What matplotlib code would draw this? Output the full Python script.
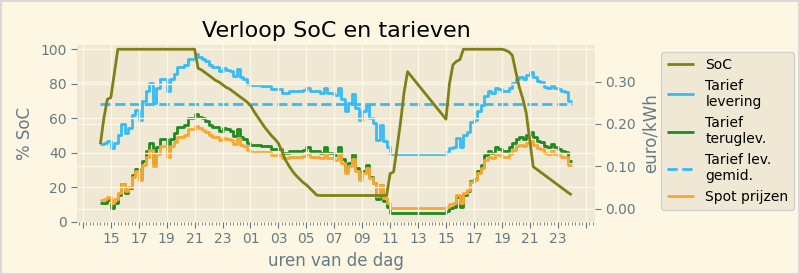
import matplotlib
matplotlib.use('Agg')
import matplotlib.pyplot as plt
import matplotlib.dates as mdates
import matplotlib.ticker as mticker
import pandas as pd
import numpy as np

plt.style.use('Solarize_Light2')

# ---- data (quarter-hour values, 14:15 day 1 .. 24:00 day 2) ----
start_time = '2025-03-10 14:15'

soc = [
    45, 60, 71,
    72, 86, 100, 100,
    100, 100, 100, 100,
    100, 100, 100, 100,
    100, 100, 100, 100,
    100, 100, 100, 100,
    100, 100, 100, 100,
    100, 89, 88, 86.5,
    85, 83.5, 82, 81,
    79.5, 78, 77, 75.5,
    # day 2
    74, 72.5, 71, 69.5,
    67.5, 64, 61, 58,
    55, 52.5, 50, 48,
    45.5, 41, 36, 32.5,
    29.5, 27, 25, 23,
    21.5, 19.5, 17.5, 15.5,
    15.3, 15.3, 15.3, 15.3,
    15.3, 15.3, 15.3, 15.3,
    15.3, 15.3, 15.3, 15.3,
    15.3, 15.3, 15.3, 15.3,
    15.3, 15.3, 15.3, 15.3,
    28, 29, 43, 58,
    75, 87, 84.5, 82,
    79.5, 77, 74.5, 72,
    69.5, 67, 64.5, 62,
    59.5, 80, 91, 93,
    94, 100, 100, 100,
    100, 100, 100, 100,
    100, 100, 100, 100,
    100, 99.5, 98.5, 96.5,
    87, 78, 71.5, 63,
    47.5, 32, 30.5, 29,
    27.5, 26, 24.5, 23,
    21.5, 20, 18.5, 17,
    15.6,
]

spot = [
    0.021, 0.022, 0.027,
    0.013, 0.022, 0.037, 0.059,
    0.041, 0.052, 0.076, 0.088,
    0.068, 0.103, 0.123, 0.139,
    0.100, 0.130, 0.147, 0.147,
    0.123, 0.147, 0.158, 0.170,
    0.170, 0.174, 0.187, 0.187,
    0.195, 0.190, 0.186, 0.182,
    0.174, 0.170, 0.170, 0.162,
    0.168, 0.165, 0.162, 0.152,
    # day 2
    0.166, 0.150, 0.147, 0.138,
    0.135, 0.135, 0.135, 0.133,
    0.133, 0.133, 0.127, 0.127,
    0.127, 0.119, 0.119, 0.123,
    0.123, 0.123, 0.123, 0.125,
    0.130, 0.123, 0.123, 0.123,
    0.119, 0.130, 0.119, 0.119,
    0.116, 0.130, 0.108, 0.085,
    0.100, 0.117, 0.090, 0.068,
    0.084, 0.096, 0.072, 0.061,
    0.029, 0.057, 0.026, 0.014,
    0.002, 0.002, 0.002, 0.002,
    0.002, 0.002, 0.002, 0.002,
    0.002, 0.002, 0.002, 0.002,
    0.002, 0.002, 0.002, 0.002,
    0.005, 0.012, 0.014, 0.033,
    0.014, 0.037, 0.045, 0.064,
    0.068, 0.084, 0.096, 0.115,
    0.123, 0.119, 0.130, 0.127,
    0.123, 0.123, 0.130, 0.139,
    0.147, 0.150, 0.147, 0.155,
    0.160, 0.150, 0.143, 0.141,
    0.132, 0.130, 0.136, 0.130,
    0.127, 0.123, 0.122, 0.103,
    0.103,
]

tarief_levering = [
    0.153, 0.155, 0.161,
    0.144, 0.155, 0.173, 0.199,
    0.178, 0.191, 0.220, 0.234,
    0.210, 0.253, 0.277, 0.296,
    0.249, 0.285, 0.306, 0.306,
    0.277, 0.306, 0.319, 0.334,
    0.334, 0.339, 0.354, 0.354,
    0.364, 0.358, 0.353, 0.348,
    0.339, 0.334, 0.334, 0.324,
    0.331, 0.328, 0.324, 0.312,
    # day 2
    0.329, 0.310, 0.306, 0.295,
    0.291, 0.291, 0.291, 0.289,
    0.289, 0.289, 0.282, 0.282,
    0.282, 0.272, 0.272, 0.277,
    0.277, 0.277, 0.277, 0.279,
    0.285, 0.277, 0.277, 0.277,
    0.272, 0.285, 0.272, 0.272,
    0.268, 0.285, 0.259, 0.231,
    0.249, 0.270, 0.237, 0.210,
    0.230, 0.244, 0.215, 0.202,
    0.163, 0.197, 0.159, 0.145,
    0.130, 0.130, 0.130, 0.130,
    0.130, 0.130, 0.130, 0.130,
    0.130, 0.130, 0.130, 0.130,
    0.130, 0.130, 0.130, 0.130,
    0.134, 0.143, 0.145, 0.168,
    0.145, 0.173, 0.182, 0.205,
    0.210, 0.230, 0.244, 0.267,
    0.277, 0.272, 0.285, 0.282,
    0.277, 0.277, 0.285, 0.296,
    0.306, 0.310, 0.306, 0.316,
    0.322, 0.310, 0.301, 0.299,
    0.288, 0.285, 0.293, 0.285,
    0.282, 0.277, 0.276, 0.253,
    0.253,
]

tarief_teruglev = [
    0.013, 0.014, 0.020,
    0.003, 0.014, 0.032, 0.059,
    0.037, 0.050, 0.079, 0.094,
    0.070, 0.112, 0.136, 0.156,
    0.109, 0.145, 0.165, 0.165,
    0.136, 0.165, 0.179, 0.193,
    0.193, 0.198, 0.214, 0.214,
    0.223, 0.217, 0.213, 0.208,
    0.198, 0.193, 0.193, 0.184,
    0.191, 0.187, 0.184, 0.171,
    # day 2
    0.188, 0.169, 0.165, 0.154,
    0.151, 0.151, 0.151, 0.148,
    0.148, 0.148, 0.141, 0.141,
    0.141, 0.131, 0.131, 0.136,
    0.136, 0.136, 0.136, 0.139,
    0.145, 0.136, 0.136, 0.136,
    0.131, 0.145, 0.131, 0.131,
    0.128, 0.145, 0.118, 0.090,
    0.109, 0.129, 0.096, 0.070,
    0.089, 0.104, 0.075, 0.061,
    0.023, 0.056, 0.019, 0.004,
    -0.010, -0.010, -0.010, -0.010,
    -0.010, -0.010, -0.010, -0.010,
    -0.010, -0.010, -0.010, -0.010,
    -0.010, -0.010, -0.010, -0.010,
    -0.006, 0.002, 0.004, 0.027,
    0.004, 0.032, 0.042, 0.065,
    0.070, 0.089, 0.104, 0.127,
    0.136, 0.131, 0.145, 0.141,
    0.136, 0.136, 0.145, 0.156,
    0.165, 0.169, 0.165, 0.175,
    0.181, 0.169, 0.161, 0.158,
    0.147, 0.145, 0.152, 0.145,
    0.141, 0.136, 0.135, 0.112,
    0.112,
]

tarief_lev_gemid = 0.246

title = 'Verloop SoC en tarieven'
xlabel = 'uren van de dag'
ylabel_left = '% SoC'
ylabel_right = 'euro/kWh'
legend_labels = ['SoC', 'Tarief\nlevering', 'Tarief\nteruglev.',
                 'Tarief lev.\ngemid.', 'Spot prijzen']

# ---- plotting ----
times = pd.date_range(start_time, periods=len(spot), freq='15min')
t_first = mdates.date2num(times[0])
t_last = mdates.date2num(times[-1])

grey = '#657b83'
fig, ax = plt.subplots(figsize=(8, 2.75), dpi=100)
fig.patch.set_edgecolor('#d9d9d9')
fig.patch.set_linewidth(1.5)
fig.subplots_adjust(left=0.096, right=0.744, top=0.836, bottom=0.193)

ax2 = ax.twinx()
# SoC axis drawn above price axis
ax.set_zorder(ax2.get_zorder() + 1)
ax.patch.set_visible(False)
ax2.patch.set_visible(True)
ax2.patch.set_facecolor('#eee8d5')

l2, = ax2.plot(times, tarief_levering, drawstyle='steps-post', color='#36bcf5',
               lw=2, label=legend_labels[1])
l3, = ax2.plot(times, tarief_teruglev, drawstyle='steps-post', color='#1f8a1f',
               lw=2, label=legend_labels[2])
l4, = ax2.plot(times, np.full(len(times), tarief_lev_gemid), ls='--',
               color='#36bcf5', lw=2, label=legend_labels[3])
l5, = ax2.plot(times, spot, drawstyle='steps-post', color='#f8a732',
               lw=2, label=legend_labels[4])
l1, = ax.plot(times, soc, color='#808016', lw=2, label=legend_labels[0])

ax.set_ylim(0, 102.4)
ax2.set_ylim(-0.031, 0.386)
ax.set_yticks([0, 20, 40, 60, 80, 100])
ax2.set_yticks([0.0, 0.1, 0.2, 0.3])
ax2.yaxis.set_major_formatter(mticker.FormatStrFormatter('%.2f'))


def hour_label(x, pos=None):
    if x < t_first or x > t_last:
        return ''
    return mdates.num2date(x).strftime('%H')


ax.xaxis.set_major_locator(mdates.HourLocator(byhour=range(1, 24, 2)))
ax.xaxis.set_major_formatter(mticker.FuncFormatter(hour_label))
ax.xaxis.set_minor_locator(mdates.MinuteLocator(byminute=[0, 15, 30, 45]))

for a in (ax, ax2):
    a.tick_params(axis='both', which='major', labelsize=10, colors=grey,
                  length=4)
    a.tick_params(axis='x', which='minor', colors=grey, length=2)
    a.grid(True, which='major', color='#fdf6e3', lw=1)
ax2.grid(False, axis='x')

ax.set_title(title, fontsize=16, color='black')
ax.set_xlabel(xlabel, fontsize=12, color=grey)
ax.set_ylabel(ylabel_left, fontsize=12, color=grey)
ax2.set_ylabel(ylabel_right, fontsize=12, color=grey)

for sp in list(ax.spines.values()) + list(ax2.spines.values()):
    sp.set_visible(False)

leg = ax.legend(handles=[l1, l2, l3, l4, l5], loc='upper left',
                bbox_to_anchor=(1.127, 0.96), borderaxespad=0, fontsize=10,
                labelcolor='black', facecolor='#eee8d5', edgecolor='#d0d0d0',
                framealpha=1)

fig.savefig('out.png', dpi=100)
